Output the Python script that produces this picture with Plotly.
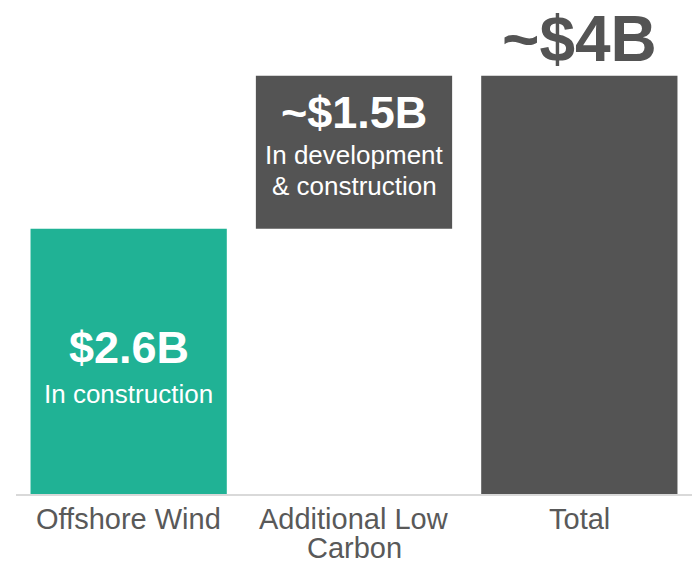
import plotly.graph_objects as go

categories = ["Offshore Wind", "Additional Low<br>Carbon", "Total"]
values = [2.6, 1.5, 4.1]
bases = [0, 2.6, 0]
colors = ["#20B295", "#545454", "#545454"]
big_labels = ["$2.6B", "~$1.5B", "~$4B"]
sub_labels = [["In construction"], ["In development", "& construction"], []]

SANS = "Liberation Sans, Arial, sans-serif"

fig = go.Figure()
fig.add_trace(go.Bar(
    x=categories, y=values, base=bases,
    marker=dict(color=colors, line=dict(width=0)),
    hoverinfo="skip", showlegend=False,
))

ann = []
# Offshore wind: centered inside bar
mid0 = bases[0] + values[0] / 2
ann.append(dict(x=categories[0], y=mid0, yshift=14, text="<b>" + big_labels[0] + "</b>",
                font=dict(family=SANS, size=45, color="white")))
ann.append(dict(x=categories[0], y=mid0, yshift=-33, text=sub_labels[0][0],
                font=dict(family=SANS, size=26, color="white")))
# Additional: near top inside bar
top1 = bases[1] + values[1]
ann.append(dict(x=categories[1], y=top1, yshift=-37, text="<b>" + big_labels[1] + "</b>",
                font=dict(family=SANS, size=45, color="white")))
for i, t in enumerate(sub_labels[1]):
    ann.append(dict(x=categories[1], y=top1, yshift=-79 - 31 * i, text=t,
                    font=dict(family=SANS, size=26, color="white")))
# Total: above bar
top2 = bases[2] + values[2]
ann.append(dict(x=categories[2], y=top2, yshift=37, text="<b>" + big_labels[2] + "</b>",
                font=dict(family=SANS, size=64, color="#545454")))
# Category labels below axis, one annotation per line
for c in categories:
    for i, line in enumerate(c.split("<br>")):
        ann.append(dict(x=c, y=0, yshift=-25 - 29 * i, text=line,
                        font=dict(family=SANS, size=29, color="#595959")))
for a in ann:
    a.update(showarrow=False, xref="x", yref="y")

fig.update_layout(
    width=692, height=563,
    margin=dict(l=16, r=0, t=35, b=69),
    paper_bgcolor="white", plot_bgcolor="white",
    bargap=0.129,
    annotations=ann,
    xaxis=dict(showline=True, linecolor="#d9d9d9", linewidth=2, showgrid=False,
               ticks="", showticklabels=False, automargin=False, fixedrange=True),
    yaxis=dict(range=[0, 4.5], visible=False, showgrid=False, automargin=False,
               fixedrange=True),
)

fig.write_html("out.html", config={"displayModeBar": False},
               post_script="document.body.style.margin='0';document.body.style.overflow='hidden';")
